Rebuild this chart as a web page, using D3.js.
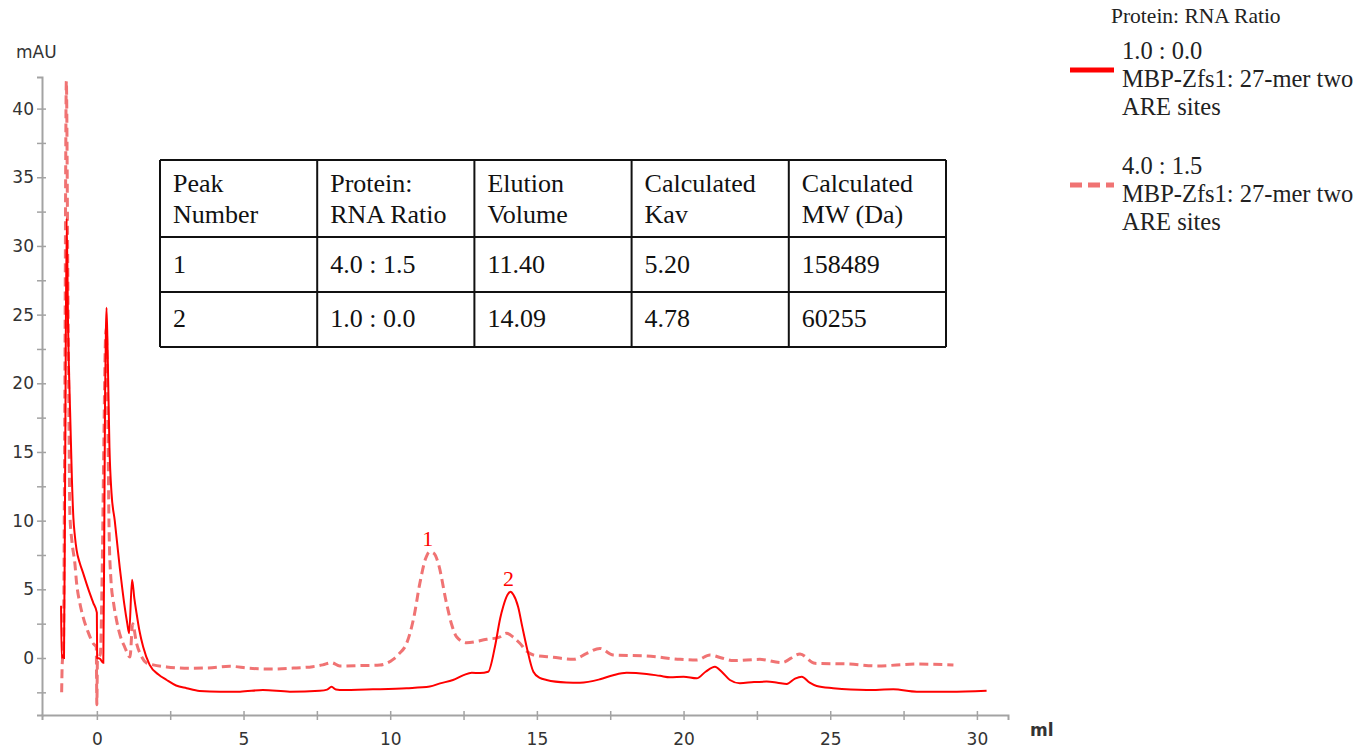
<!DOCTYPE html>
<html lang="en">
<head>
  <meta charset="UTF-8">
  <title>Elution profile: MBP-Zfs1 with 27-mer two ARE sites</title>
  <style>
    body {
      margin: 0;
      background: #fff;
    }
    svg {
      display: block;
    }
    .tick text {
      font-family: "DejaVu Sans", sans-serif;
      font-size: 17px;
      fill: #333;
    }
    .serif {
      font-family: "Liberation Serif", "Times New Roman", serif;
    }
  </style>
  <script src="https://d3js.org/d3.v7.min.js"></script>
</head>
<body>
  <svg width="1357" height="752"></svg>
  <script>
    // Curve 1.0 : 0.0 (solid) - volume (ml) and absorbance (mAU)
    const solidMl = [-1.22, -1.2, -1.16, -1.12, -1.08, -1.03, -0.98, -0.9, -0.85, -0.8, -0.75, -0.69, -0.58, -0.47, -0.35, -0.24, -0.12, 0.0,
      0.01, 0.1, 0.22, 0.25, 0.28, 0.31, 0.33, 0.37, 0.43, 0.5, 0.61, 0.7, 0.78, 0.87, 0.95, 1.03, 1.1, 1.2, 1.28, 1.35, 1.45, 1.58,
      1.8, 2.1, 2.38, 2.7, 3.06, 3.5, 4.2, 4.88, 5.66, 6.58, 7.6, 7.85, 8.0, 8.15, 8.28, 9.41, 10.56, 11.35, 11.7, 12.14, 12.5,
      12.78, 13.06, 13.34, 13.57, 13.75, 13.85, 14.0, 14.1, 14.2, 14.36, 14.5, 14.65, 14.88, 15.1, 15.33, 16.0, 16.47, 17.15,
      17.6, 18.06, 18.74, 19.2, 19.54, 20.0, 20.45, 20.75, 21.07, 21.3, 21.58, 21.92, 22.4, 22.83, 23.2, 23.52, 23.8, 24.03,
      24.3, 24.54, 25.1, 25.7, 26.24, 27.15, 27.95, 29.08, 30.33];
    const solidMau = [3.8, 0.0, 0.2, 0.0, 14, 32, 24, 17, 13, 10.2, 8.9, 7.85, 6.9, 6.2, 5.4, 4.7, 4.0, 3.3,
      0.0, -0.05, -0.35, 8, 19, 24, 25.5, 22, 15.3, 12, 10.0, 8.2, 6.6, 5.0, 3.7, 2.6, 1.8, 5.7, 4.3, 3.3, 2.0, 0.8,
      -0.5, -1.2, -1.6, -2.0, -2.2, -2.4, -2.45, -2.45, -2.33, -2.45, -2.38, -2.3, -2.1, -2.3, -2.33, -2.28, -2.2, -2.08, -1.85, -1.6, -1.25,
      -1.07, -1.1, -1.0, 0.82, 2.9, 3.73, 4.6, 4.82, 4.6, 3.73, 2.3, 0.82, -1.0, -1.45, -1.6, -1.78, -1.8, -1.55,
      -1.25, -1.07, -1.16, -1.3, -1.4, -1.36, -1.48, -1.0, -0.63, -1.0, -1.6, -1.84, -1.75, -1.72, -1.8, -1.89, -1.5, -1.36,
      -1.8, -2.04, -2.2, -2.3, -2.33, -2.28, -2.45, -2.45, -2.38];

    // Curve 4.0 : 1.5 (dashed)
    const dashedMl = [-1.2, -1.18, -1.14, -1.1, -1.04, -0.99, -0.95, -0.92, -0.85, -0.75, -0.69, -0.58, -0.47, -0.3, -0.13, -0.02,
      0.0, 0.02, 0.12, 0.18, 0.24, 0.29, 0.32, 0.37, 0.42, 0.48, 0.57, 0.67, 0.8, 0.95, 1.13, 1.22, 1.35, 1.5, 1.69, 1.92,
      2.38, 3.17, 3.8, 4.53, 5.2, 6.0, 6.8, 7.36, 7.7, 8.0, 8.28, 9.0, 9.65, 10.1, 10.3, 10.56, 10.8, 11.01, 11.2, 11.35, 11.5,
      11.64, 11.92, 12.1, 12.26, 12.6, 13.29, 13.7, 13.97, 14.2, 14.42, 14.65, 14.88, 15.56, 16.24, 16.7, 17.15, 17.6, 18.74,
      19.88, 20.45, 20.9, 21.3, 21.7, 22.6, 23.34, 23.97, 24.48, 25.67, 26.58, 27.95, 29.2];
    const dashedMau = [-2.5, -0.4, 0.5, 15, 42, 28, 17, 10.5, 8.5, 6.9, 5.45, 4.0, 3.0, 1.9, 1.07, 0.8,
      -3.4, -0.2, 0.3, 6, 16, 23, 24, 18, 9, 5.7, 4.0, 2.76, 1.6, 0.8, 0.07, 2.5, 1.1, 0.2, -0.36, -0.5,
      -0.65, -0.75, -0.72, -0.6, -0.75, -0.8, -0.72, -0.63, -0.5, -0.34, -0.58, -0.55, -0.51, -0.1, 0.3, 1.07, 2.9, 5.43, 7.2, 7.73, 7.6,
      6.88, 3.98, 2.4, 1.55, 1.11, 1.36, 1.5, 1.8, 1.5, 1.07, 0.5, 0.22, 0.05, -0.1, 0.34, 0.7, 0.22, 0.15,
      -0.1, -0.15, 0.22, 0.0, -0.19, -0.1, -0.34, 0.29, -0.39, -0.44, -0.58, -0.44, -0.51];

    const xMajorTicks = [0, 5, 10, 15, 20, 25, 30];
    const xMinorTicks = [2.5, 7.5, 12.5, 17.5, 22.5, 27.5];
    const yMajorTicks = [0, 5, 10, 15, 20, 25, 30, 35, 40];
    const yMinorTicks = [-2.5, 2.5, 7.5, 12.5, 17.5, 22.5, 27.5, 32.5, 37.5];

    const peakNames = ["1", "2"];
    const peakMl = [11.35, 14.1];
    const peakMau = [7.73, 4.82];

    const legendTitle = "Protein: RNA Ratio";
    const legendRatios = ["1.0 : 0.0", "4.0 : 1.5"];
    const legendSample = ["MBP-Zfs1: 27-mer two", "ARE sites"];

    const tableHeader = [["Peak", "Number"], ["Protein:", "RNA Ratio"], ["Elution", "Volume"], ["Calculated", "Kav"], ["Calculated", "MW (Da)"]];
    const tableRows = [
      ["1", "4.0 : 1.5", "11.40", "5.20", "158489"],
      ["2", "1.0 : 0.0", "14.09", "4.78", "60255"]
    ];

    const solidColor = "#ff0000";
    const dashColor = "#f07373";

    const svg = d3.select("svg");

    // scales
    const x = d3.scaleLinear().domain([-1.87, 31.06]).range([42, 1008]);
    const y = d3.scaleLinear().domain([-4.15, 42.3]).range([715, 77]);

    // axes: major ticks with labels, minor ticks without
    const axisColor = "#a3a3a3";
    function styleAxis(g, horizontal) {
      g.select(".domain").attr("stroke", axisColor).attr("stroke-width", 2);
      g.selectAll(".tick line").attr("stroke", axisColor).attr("stroke-width", 1.5);
      if (horizontal) g.selectAll(".tick line").attr("y1", -4);
      else g.selectAll(".tick line").attr("x1", 4);
    }

    const gx = svg.append("g").attr("transform", "translate(0,715)")
      .call(d3.axisBottom(x).tickValues(xMajorTicks).tickSize(5).tickPadding(13).tickFormat(d3.format("d")));
    styleAxis(gx, true);
    const gxm = svg.append("g").attr("transform", "translate(0,715)")
      .call(d3.axisBottom(x).tickValues(xMinorTicks).tickSize(5).tickFormat(""));
    styleAxis(gxm, true);
    gxm.select(".domain").remove();

    const gy = svg.append("g").attr("transform", "translate(42,0)")
      .call(d3.axisLeft(y).tickValues(yMajorTicks).tickSize(5).tickPadding(3).tickFormat(d3.format("d")));
    styleAxis(gy, false);
    const gym = svg.append("g").attr("transform", "translate(42,0)")
      .call(d3.axisLeft(y).tickValues(yMinorTicks).tickSize(5).tickFormat(""));
    styleAxis(gym, false);
    gym.select(".domain").remove();

    svg.append("text").attr("x", 16).attr("y", 58)
      .style("font-family", "DejaVu Sans, sans-serif").style("font-size", "17px").attr("fill", "#333")
      .text("mAU");
    svg.append("text").attr("x", 1030).attr("y", 736)
      .style("font-family", "DejaVu Sans, sans-serif").style("font-size", "17px").style("font-weight", "bold").attr("fill", "#333")
      .text("ml");

    // curves
    const line = d3.line().x(d => x(d[0])).y(d => y(d[1])).curve(d3.curveMonotoneX);
    const dashedData = d3.zip(dashedMl, dashedMau);
    const solidData = d3.zip(solidMl, solidMau);

    svg.append("path").datum(dashedData)
      .attr("d", line).attr("fill", "none")
      .attr("stroke", dashColor).attr("stroke-width", 3).attr("stroke-dasharray", "9,5");
    svg.append("path").datum(solidData)
      .attr("d", line).attr("fill", "none")
      .attr("stroke", solidColor).attr("stroke-width", 2);

    // peak numbers
    svg.selectAll(".peak").data(d3.zip(peakNames, peakMl, peakMau)).enter()
      .append("text").attr("class", "peak serif")
      .attr("x", d => x(d[1]) - 2).attr("y", d => y(d[2]) - 6)
      .attr("text-anchor", "middle").attr("fill", solidColor).style("font-size", "22px")
      .text(d => d[0]);

    // table
    const tLeft = 160, tTop = 160, tRight = 946;
    const colW = (tRight - tLeft) / tableHeader.length;
    const rowTops = [160, 237, 292, 347];
    const table = svg.append("g").attr("class", "serif").style("font-size", "26px").attr("fill", "#111");
    rowTops.forEach(ry => table.append("line").attr("x1", tLeft).attr("x2", tRight).attr("y1", ry).attr("y2", ry)
      .attr("stroke", "#111").attr("stroke-width", 2));
    d3.range(tableHeader.length + 1).forEach(i => table.append("line")
      .attr("x1", tLeft + i * colW).attr("x2", tLeft + i * colW).attr("y1", tTop).attr("y2", rowTops[3])
      .attr("stroke", "#111").attr("stroke-width", 2));
    tableHeader.forEach((h, i) => {
      h.forEach((s, j) => table.append("text").attr("x", tLeft + i * colW + 13).attr("y", 192 + j * 31).text(s));
    });
    tableRows.forEach((r, k) => {
      r.forEach((s, i) => table.append("text").attr("x", tLeft + i * colW + 13).attr("y", 273 + k * 54).text(s));
    });

    // legend
    const legend = svg.append("g").attr("class", "serif");
    legend.append("text").attr("x", 1111).attr("y", 23).style("font-size", "21.5px").attr("fill", "#222").text(legendTitle);
    const styles = [{ c: solidColor, dash: null }, { c: dashColor, dash: "12,6" }];
    legendRatios.forEach((r, i) => {
      const top = 59 + i * 115;
      legend.append("line").attr("x1", 1070).attr("x2", 1114).attr("y1", top + 11).attr("y2", top + 11)
        .attr("stroke", styles[i].c).attr("stroke-width", 5).attr("stroke-dasharray", styles[i].dash);
      [r].concat(legendSample).forEach((s, j) => legend.append("text")
        .attr("x", 1122).attr("y", top + j * 28).style("font-size", "24.5px").attr("fill", "#222").text(s));
    });
  </script>
</body>
</html>
